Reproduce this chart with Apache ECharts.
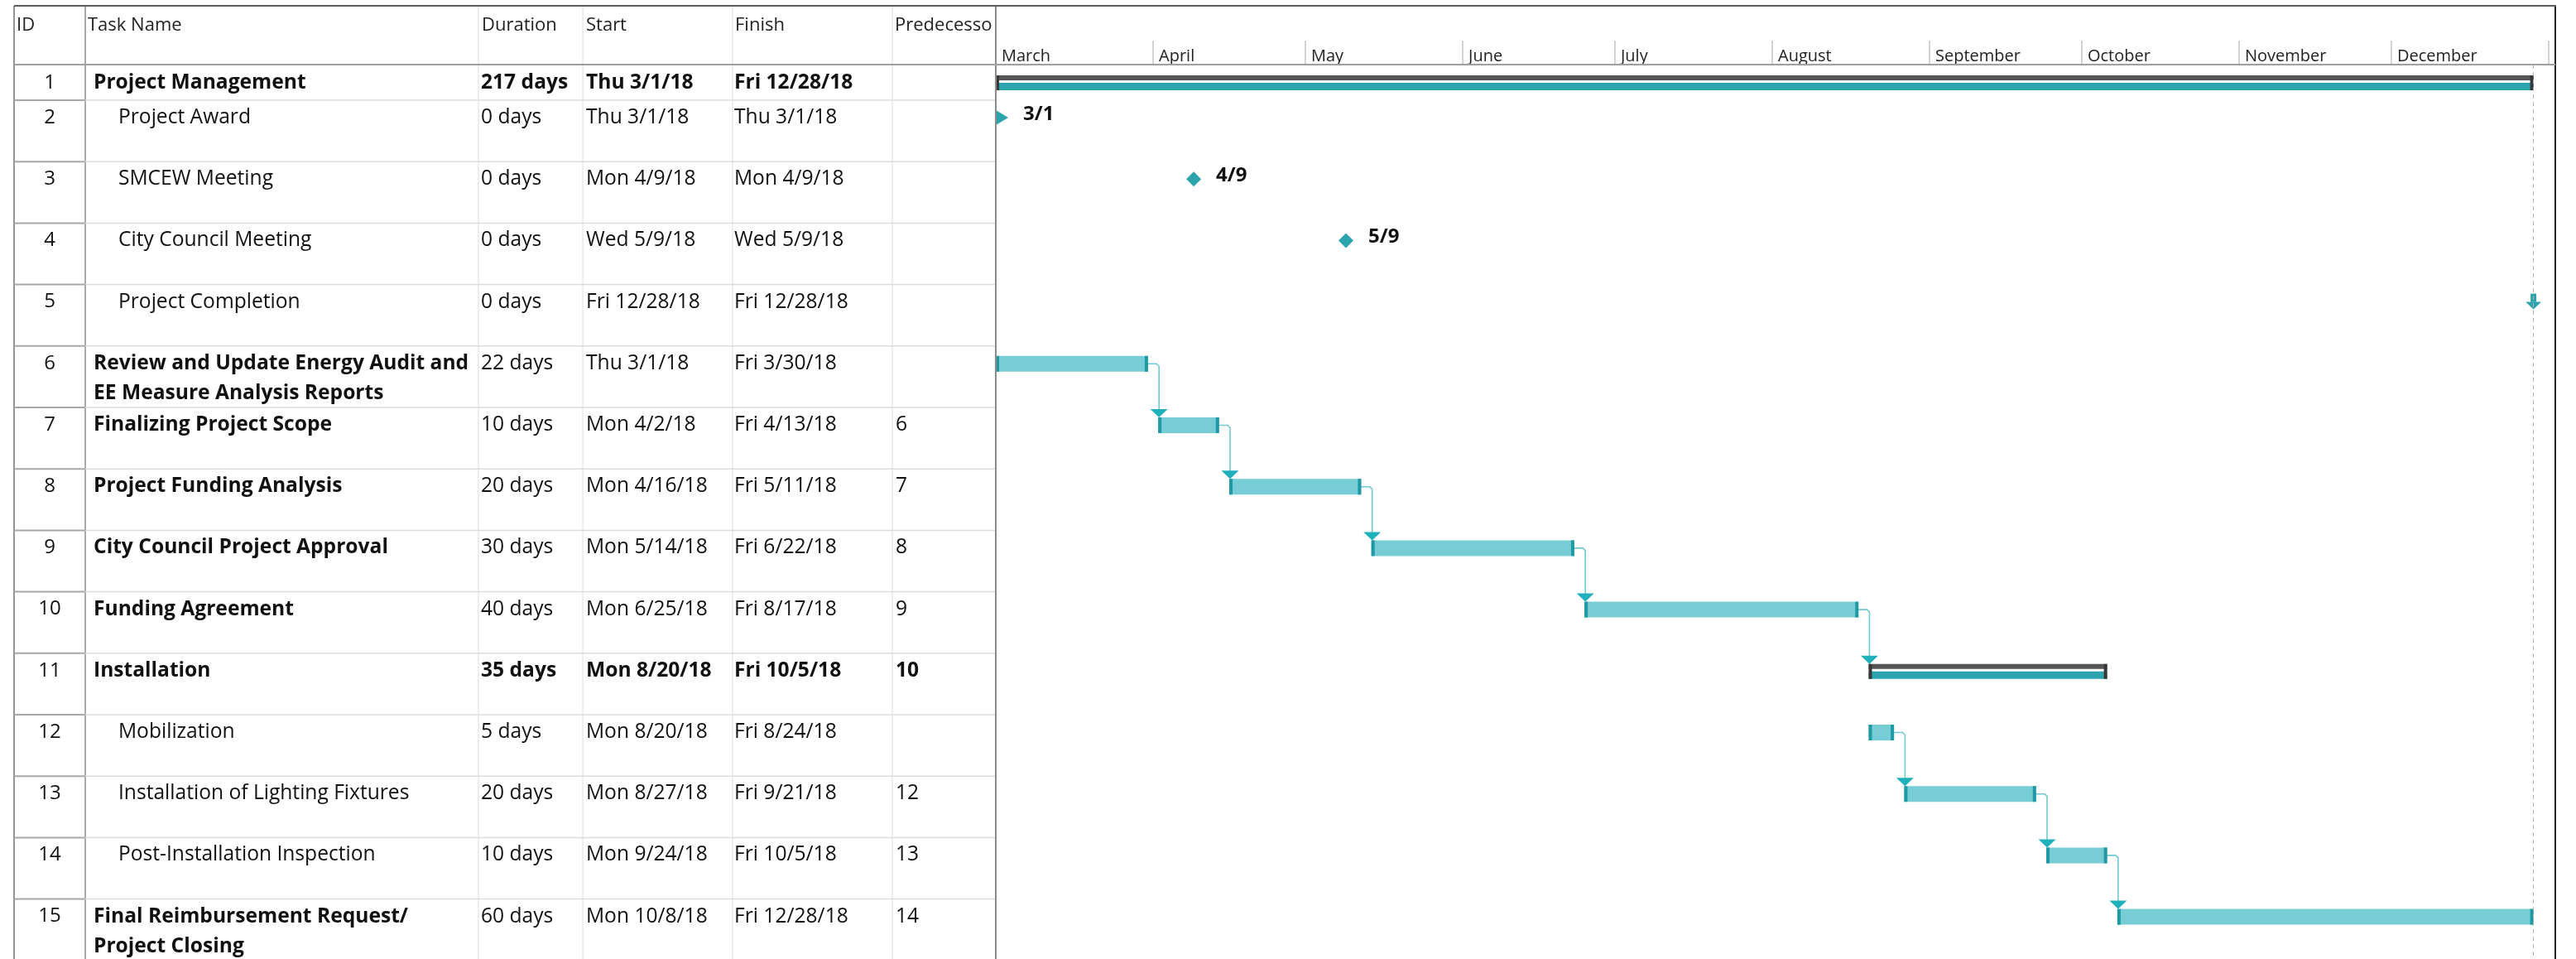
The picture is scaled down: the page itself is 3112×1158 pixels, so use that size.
<!DOCTYPE html>
<html><head><meta charset="utf-8">
<script src="https://cdn.jsdelivr.net/npm/echarts@6/dist/echarts.min.js"></script>
<style>html,body{margin:0;padding:0;background:#fff}#chart{width:3112px;height:1158px}</style>
</head><body><div id="chart"></div>
<script>
// ---------------- data ----------------
const taskIds = [1,2,3,4,5,6,7,8,9,10,11,12,13,14,15];
const taskNames = ['Project Management','Project Award','SMCEW Meeting','City Council Meeting','Project Completion',
  'Review and Update Energy Audit and\nEE Measure Analysis Reports','Finalizing Project Scope','Project Funding Analysis',
  'City Council Project Approval','Funding Agreement','Installation','Mobilization','Installation of Lighting Fixtures',
  'Post-Installation Inspection','Final Reimbursement Request/\nProject Closing'];
const durations = ['217 days','0 days','0 days','0 days','0 days','22 days','10 days','20 days','30 days','40 days','35 days','5 days','20 days','10 days','60 days'];
const startLabels = ['Thu 3/1/18','Thu 3/1/18','Mon 4/9/18','Wed 5/9/18','Fri 12/28/18','Thu 3/1/18','Mon 4/2/18','Mon 4/16/18','Mon 5/14/18','Mon 6/25/18','Mon 8/20/18','Mon 8/20/18','Mon 8/27/18','Mon 9/24/18','Mon 10/8/18'];
const finishLabels = ['Fri 12/28/18','Thu 3/1/18','Mon 4/9/18','Wed 5/9/18','Fri 12/28/18','Fri 3/30/18','Fri 4/13/18','Fri 5/11/18','Fri 6/22/18','Fri 8/17/18','Fri 10/5/18','Fri 8/24/18','Fri 9/21/18','Fri 10/5/18','Fri 12/28/18'];
const predecessors = ['','','','','','','6','7','8','9','10','','12','13','14'];
const taskTypes = ['summary','milestone','milestone','milestone','milestone','task','task','task','task','task','summary','task','task','task','task'];
const outlineLevel = [1,2,2,2,2,1,1,1,1,1,1,2,2,2,1];
const boldName = [true,false,false,false,false,true,true,true,true,true,true,false,false,false,true];
const startDates = ['2018-03-01','2018-03-01','2018-04-09','2018-05-09','2018-12-28T23:59','2018-03-01','2018-04-02','2018-04-16','2018-05-14','2018-06-25','2018-08-20','2018-08-20','2018-08-27','2018-09-24','2018-10-08'];
const finishDates = ['2018-12-28','2018-03-01','2018-04-09','2018-05-09','2018-12-28','2018-03-30','2018-04-13','2018-05-11','2018-06-22','2018-08-17','2018-10-05','2018-08-24','2018-09-21','2018-10-05','2018-12-28'];
const milestoneLabels = ['','3/1','4/9','5/9','','','','','','','','','','',''];
const monthNames = ['March','April','May','June','July','August','September','October','November','December',''];
const monthStarts = ['2018-03-01','2018-04-01','2018-05-01','2018-06-01','2018-07-01','2018-08-01','2018-09-01','2018-10-01','2018-11-01','2018-12-01','2019-01-01'];
const headerLabels = ['ID','Task Name','Duration','Start','Finish','Predecessors'];
const timelineStart = '2018-03-01';

// ---------------- helpers ----------------
function dayOf(s){
  const iso = s.length === 10 ? s + 'T00:00:00Z' : s + ':00Z';
  return (Date.parse(iso) - Date.parse(timelineStart + 'T00:00:00Z')) / 86400000;
}
const startDay = startDates.map(dayOf);
const endDay = finishDates.map((d, i) => taskTypes[i] === 'milestone' ? startDay[i] : dayOf(d) + 1);

// layout
const FONT = '"Open Sans", "Noto Sans", sans-serif';
const CH_L = 1203, CH_R = 3087, TOP = 7, HEAD_B = 78, H = 1158, TAB_L = 17;
const ROW_PX = 74.2, R1 = 43 / ROW_PX;
const BODY_SIZE = 24.6;
const timelineEndDay = dayOf('2019-01-01');
const axisMaxDay = timelineEndDay * (CH_R - CH_L) / (3079 - CH_L);
const bodyMaxU = (H - HEAD_B) / ROW_PX;
function rowTopU(i){ return i === 0 ? 0 : R1 + (i - 1); }
function rowHU(i){ return i === 0 ? R1 : 1; }

const TEAL_BAR = '#77CDD6', TEAL_CAP = '#1F99A3', TEAL_DARK = '#2BA4AD', LINK = '#6FC9D2', ARROW = '#1FB0BC';

// ---------------- render functions ----------------
function txt(x, y, s, opts){
  opts = opts || {};
  return {type:'text', style:{x:x, y:y, text:s, fontFamily:FONT, fontSize:opts.size||BODY_SIZE,
    fontWeight:opts.bold?'bold':'normal', fill:opts.fill||'#111', align:opts.align||'left', verticalAlign:'middle'}};
}

function renderTable(params, api){
  const i = api.value(1);
  const top = api.coord([0, rowTopU(i)])[1];
  const bottom = api.coord([0, rowTopU(i) + rowHU(i)])[1];
  const left = api.coord([0, 0])[0];
  const right = api.coord([1186, 0])[0];
  const mid = top + (i === 0 ? 22 : 21);
  const sum = taskTypes[i] === 'summary';
  const ch = [];
  ch.push({type:'line', shape:{x1:left, y1:bottom, x2:left+86, y2:bottom}, style:{stroke:'#a8a8a8', lineWidth:2}});
  ch.push({type:'line', shape:{x1:left+86, y1:bottom, x2:right, y2:bottom}, style:{stroke:'#dcdcdc', lineWidth:1.5}});
  ch.push(txt(left + 43, mid, String(taskIds[i]), {align:'center', size:24}));
  taskNames[i].split('\n').forEach((ln, k) => {
    ch.push(txt(left + (outlineLevel[i] > 1 ? 126 : 96), mid + k * 36, ln, {bold: boldName[i]}));
  });
  ch.push(txt(left + 564, mid, durations[i], {bold: sum}));
  ch.push(txt(left + 691, mid, startLabels[i], {bold: sum}));
  ch.push(txt(left + 870, mid, finishLabels[i], {bold: sum}));
  ch.push(txt(left + 1065, mid, predecessors[i], {bold: sum}));
  return {type:'group', children: ch};
}

function renderBars(params, api){
  const s = api.value(0), i = api.value(1), e = api.value(2);
  const type = taskTypes[i];
  const top = api.coord([s, rowTopU(i)])[1];
  const x0 = api.coord([s, 0])[0];
  const x1 = api.coord([e, 0])[0];
  const ch = [];
  if (type === 'task') {
    ch.push({type:'rect', shape:{x:x0, y:top+12, width:x1-x0, height:19}, style:{fill:TEAL_BAR}});
    ch.push({type:'rect', shape:{x:x0, y:top+12, width:4, height:19}, style:{fill:TEAL_CAP}});
    ch.push({type:'rect', shape:{x:x1-4, y:top+12, width:4, height:19}, style:{fill:TEAL_CAP}});
  } else if (type === 'summary') {
    ch.push({type:'rect', shape:{x:x0, y:top+13, width:x1-x0, height:6}, style:{fill:'#555555'}});
    ch.push({type:'rect', shape:{x:x0, y:top+22, width:x1-x0, height:9}, style:{fill:TEAL_DARK}});
    ch.push({type:'rect', shape:{x:x0, y:top+13, width:4, height:18}, style:{fill:'#383838'}});
    ch.push({type:'rect', shape:{x:x1-4, y:top+13, width:4, height:18}, style:{fill:'#383838'}});
  } else {
    const cy = top + 21;
    if (s === 0) {
      ch.push({type:'polygon', shape:{points:[[x0+1, cy-8.5],[x0+15, cy],[x0+1, cy+8.5]]}, style:{fill:TEAL_DARK}});
    } else if (milestoneLabels[i] === '') {
      ch.push({type:'rect', shape:{x:x0-3.5, y:top+11, width:7, height:10}, style:{fill:TEAL_DARK}});
      ch.push({type:'polygon', shape:{points:[[x0-9.5, top+21],[x0+9.5, top+21],[x0, top+30]]}, style:{fill:TEAL_DARK}});
    } else {
      ch.push({type:'polygon', shape:{points:[[x0, cy-9],[x0+9, cy],[x0, cy+9],[x0-9, cy]]}, style:{fill:TEAL_DARK}});
    }
    if (milestoneLabels[i]) {
      ch.push(txt(x0 + (s === 0 ? 33 : 27), top + 17, milestoneLabels[i], {bold:true, size:24}));
    }
  }
  return {type:'group', children: ch};
}

function renderLinks(params, api){
  const p = api.value(0), q = api.value(1);
  const xe = api.coord([endDay[p], 0])[0];
  const ym = api.coord([0, rowTopU(p)])[1] + 21.5;
  const xs = api.coord([startDay[q], 0])[0] + 1;
  const yt = api.coord([0, rowTopU(q)])[1] + (taskTypes[q] === 'summary' ? 13 : 12);
  return {type:'group', children:[
    {type:'polyline', shape:{points:[[xe, ym],[xs-3, ym],[xs, ym+3],[xs, yt-9]]}, style:{stroke:LINK, lineWidth:1.6, fill:null}},
    {type:'polygon', shape:{points:[[xs-10.5, yt-10],[xs+10.5, yt-10],[xs, yt]]}, style:{fill:ARROW}}
  ]};
}

function renderMonths(params, api){
  const d = api.value(0), k = api.value(1);
  const x = api.coord([d, 0])[0];
  const ch = [];
  if (d > 0) ch.push({type:'line', shape:{x1:x, y1:49, x2:x, y2:HEAD_B}, style:{stroke:'#a6a6a6', lineWidth:1}});
  if (monthNames[k]) ch.push(txt(x + 7, 68, monthNames[k], {size:20, fill:'#222'}));
  return {type:'group', children: ch};
}

// ---------------- static frame ----------------
const colLines = [578, 704, 885, 1078];
const headerX = [20, 106, 582, 708, 888, 1081];
const graphic = [];
function gl(x1, y1, x2, y2, stroke, w, z){
  graphic.push({type:'line', silent:true, z: z||0, shape:{x1:x1,y1:y1,x2:x2,y2:y2}, style:{stroke:stroke, lineWidth:w}});
}
colLines.forEach(x => gl(x, TOP, x, H, '#dcdcdc', 1));
gl(103, TOP, 103, H, '#a8a8a8', 2);
gl(TAB_L, TOP, TAB_L, H, '#707070', 1.5);
gl(CH_L, TOP, CH_L, H, '#8c8c8c', 2, 10);
gl(CH_R, TOP, CH_R, H, '#262626', 2, 10);
gl(TAB_L, HEAD_B, CH_R, HEAD_B, '#a0a0a0', 2, 10);
gl(TAB_L, TOP, CH_R + 1, TOP, '#5a5a5a', 2, 10);
headerLabels.forEach((h, k) => {
  graphic.push({type:'text', silent:true, style:{x: headerX[k], y: 31, text: h, fontFamily: FONT, fontSize: 22,
    fill:'#222', verticalAlign:'middle', width: k === 5 ? 125 : undefined, overflow: k === 5 ? 'truncate' : undefined, ellipsis: ''}});
});

// ---------------- chart ----------------
const chart = echarts.init(document.getElementById('chart'), null, {renderer:'canvas'});
const links = [];
predecessors.forEach((p, i) => { if (p) p.split(',').forEach(v => links.push([taskIds.indexOf(+v), i])); });

chart.setOption({
  backgroundColor: '#ffffff',
  animation: false,
  grid: [
    {left: CH_L, top: TOP, width: CH_R - CH_L, height: HEAD_B - TOP},
    {left: CH_L, top: HEAD_B, width: CH_R - CH_L, height: H - HEAD_B},
    {left: TAB_L, top: HEAD_B, width: CH_L - TAB_L, height: H - HEAD_B}
  ],
  xAxis: [
    {type:'value', gridIndex:0, min:0, max:axisMaxDay, show:false},
    {type:'value', gridIndex:1, min:0, max:axisMaxDay, show:false},
    {type:'value', gridIndex:2, min:0, max:CH_L - TAB_L, show:false}
  ],
  yAxis: [
    {type:'value', gridIndex:0, min:0, max:1, show:false},
    {type:'value', gridIndex:1, min:0, max:bodyMaxU, inverse:true, show:false},
    {type:'value', gridIndex:2, min:0, max:bodyMaxU, inverse:true, show:false}
  ],
  graphic: graphic,
  series: [
    {type:'custom', xAxisIndex:2, yAxisIndex:2, silent:true, renderItem: renderTable,
      data: taskIds.map((id, i) => [0, i])},
    {type:'custom', xAxisIndex:0, yAxisIndex:0, silent:true, renderItem: renderMonths,
      data: monthStarts.map((d, k) => [dayOf(d), k])},
    {type:'custom', xAxisIndex:1, yAxisIndex:1, silent:true, renderItem: renderLinks, z: 3,
      data: links},
    {type:'custom', xAxisIndex:1, yAxisIndex:1, silent:true, renderItem: renderBars, z: 4,
      data: taskIds.map((id, i) => [startDay[i], i, endDay[i]]),
      markLine: {silent:true, symbol:'none', label:{show:false},
        lineStyle:{type:[5,4], color:'#b0b0b0', width:1},
        data:[{xAxis: endDay[0]}]}}
  ]
});
</script></body></html>
